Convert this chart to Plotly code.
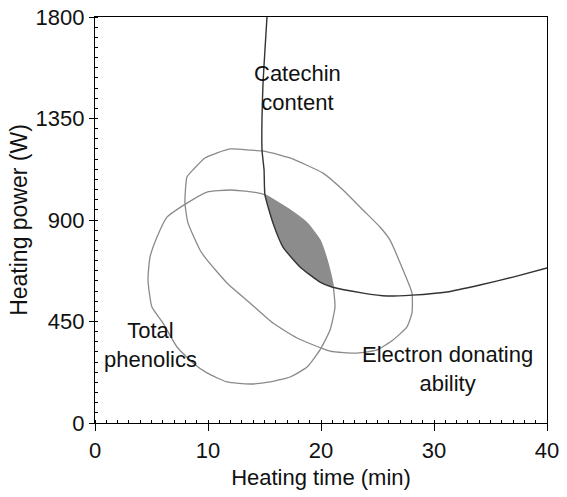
import plotly.graph_objects as go

# Catechin content contour
catechin_x = [15.22, 15.04, 14.87, 14.78, 14.78, 14.96, 15.04, 15.75, 16.64, 18.14, 19.91, 20.97,
              23.72, 25.84, 28.05, 31.15, 34.07, 36.99, 40.0]
catechin_y = [1800, 1654, 1507, 1357, 1210, 1122, 1011, 887, 780, 692, 625, 603,
              576, 563, 567, 581, 612, 647, 687]

# Electron donating ability contour (closed)
electron_x = [7.96, 8.14, 8.67, 9.73, 11.95, 13.72, 14.78, 16.37, 17.26, 20.18, 21.95, 23.72,
              25.22, 26.11, 27.26, 28.05, 28.05, 27.61, 26.37, 24.96, 23.19, 20.80, 17.88,
              15.75, 13.72, 11.68, 9.91, 9.29, 8.23, 7.96]
electron_y = [975, 1091, 1122, 1175, 1215, 1210, 1206, 1188, 1175, 1108, 1033, 944,
              869, 811, 678, 576, 488, 426, 368, 324, 310, 319, 377,
              443, 532, 621, 723, 767, 887, 975]

# Total phenolics contour (closed)
phenolics_x = [4.69, 4.87, 5.49, 6.37, 8.14, 9.91, 11.95, 13.98, 15.04, 17.26, 18.76, 19.91,
               20.53, 21.06, 21.24, 20.80, 19.91, 18.76, 17.26, 15.49, 13.72, 11.68, 9.91,
               8.67, 7.26, 6.02, 5.04, 4.69]
phenolics_y = [634, 736, 825, 913, 975, 1024, 1033, 1024, 1011, 944, 887, 811,
               723, 612, 514, 412, 324, 248, 204, 182, 173, 182, 222,
               266, 337, 443, 514, 634]

# Overlapping (optimum) region
region_x = [15.04, 17.26, 18.76, 19.91, 20.53, 21.06, 20.97, 19.91, 18.14, 16.64, 15.75, 15.04]
region_y = [1011, 944, 887, 811, 723, 612, 603, 625, 692, 780, 887, 1011]

labels = ["Catechin<br>content", "Total<br>phenolics", "Electron donating<br>ability"]
label_x = [17.96, 4.87, 31.15]
label_y = [1485, 346, 239]

x_ticks = [0, 10, 20, 30, 40]
y_ticks = [0, 450, 900, 1350, 1800]

FONT = "Arial, Liberation Sans, sans-serif"
FS = 22

fig = go.Figure()
fig.add_trace(go.Scatter(x=region_x, y=region_y, mode="lines", fill="toself",
                         fillcolor="#8c8c8c", line=dict(color="#8c8c8c", width=0.5),
                         hoverinfo="skip", showlegend=False))
fig.add_trace(go.Scatter(x=electron_x, y=electron_y, mode="lines",
                         line=dict(color="#8a8a8a", width=1.3, shape="spline", smoothing=0.5),
                         showlegend=False))
fig.add_trace(go.Scatter(x=phenolics_x, y=phenolics_y, mode="lines",
                         line=dict(color="#8a8a8a", width=1.3, shape="spline", smoothing=0.5),
                         showlegend=False))
fig.add_trace(go.Scatter(x=catechin_x, y=catechin_y, mode="lines",
                         line=dict(color="#333333", width=1.4, shape="spline", smoothing=0.5),
                         showlegend=False))

for t, x, y in zip(labels, label_x, label_y):
    fig.add_annotation(x=x, y=y, xref="x", yref="y", text=t, showarrow=False,
                       font=dict(family=FONT, size=FS, color="#111111"), align="center")

fig.update_layout(
    width=567, height=497,
    margin=dict(l=95, r=20, t=17, b=74),
    paper_bgcolor="white", plot_bgcolor="white",
    font=dict(family=FONT, size=FS, color="#111111"),
)
fig.update_xaxes(range=[0, 40], tickvals=x_ticks, ticktext=[str(v) for v in x_ticks],
                 automargin=False,
                 showgrid=False, zeroline=False, showline=True, linecolor="black", linewidth=1.2,
                 mirror=True, ticks="outside", ticklen=7, tickcolor="black",
                 minor=dict(dtick=1, ticks="inside", ticklen=3, tickcolor="black"),
                 title=dict(text="Heating time (min)", font=dict(size=FS), standoff=8),
                 tickfont=dict(size=FS))
fig.update_yaxes(range=[0, 1800], tickvals=y_ticks, ticktext=[str(v) for v in y_ticks],
                 automargin=False,
                 showgrid=False, zeroline=False, showline=True, linecolor="black", linewidth=1.2,
                 mirror=True, ticks="outside", ticklen=5, tickcolor="black",
                 minor=dict(dtick=45, ticks="inside", ticklen=3, tickcolor="black"),
                 title=dict(text="Heating power (W)", font=dict(size=23), standoff=1),
                 tickfont=dict(size=FS))

fig.write_html("out.html")
